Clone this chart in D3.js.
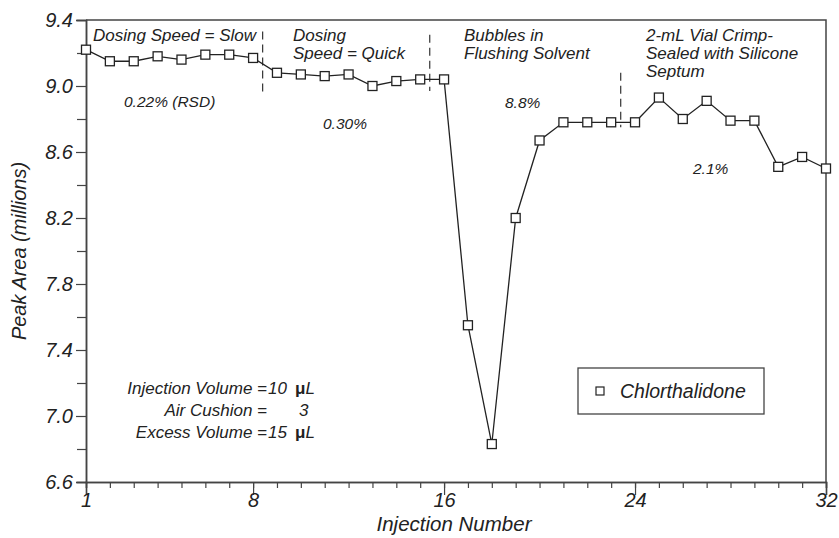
<!DOCTYPE html>
<html>
<head>
<meta charset="utf-8">
<script src="https://cdn.jsdelivr.net/npm/d3@7"></script>
<style>
  body { margin: 0; background: #fff; }
  text { font-family: "Liberation Sans", Arial, Helvetica, sans-serif; font-style: italic; fill: #222; }
</style>
</head>
<body>
<script>
// data
var injection = [1,2,3,4,5,6,7,8,9,10,11,12,13,14,15,16,17,18,19,20,21,22,23,24,25,26,27,28,29,30,31,32];
var peakArea = [9.22,9.15,9.15,9.18,9.16,9.19,9.19,9.17,9.08,9.07,9.06,9.07,9.00,9.03,9.04,9.04,
                7.55,6.83,8.20,8.67,8.78,8.78,8.78,8.78,8.93,8.80,8.91,8.79,8.79,8.51,8.57,8.50];
var xTickLabels = [1, 8, 16, 24, 32];
var yTickLabels = [6.6, 7.0, 7.4, 7.8, 8.2, 8.6, 9.0, 9.4];
var yMinorTicks = [6.8, 7.2, 7.6, 8.0, 8.4, 8.8, 9.2];
// dashed separators between conditions: x position, y from, y to
var sepX = [8.4, 15.4, 23.4];
var sepTop = [9.33, 9.31, 9.08];
var sepBottom = [8.96, 8.97, 8.75];
var rsdLabels = ["0.22% (RSD)", "0.30%", "8.8%", "2.1%"];
var seriesName = "Chlorthalidone";

var width = 839, height = 538;
var margin = {top: 20, right: 13, bottom: 56, left: 86};

var svg = d3.select("body").append("svg")
  .attr("width", width)
  .attr("height", height);

var x = d3.scaleLinear().domain([1, 32]).range([margin.left, width - margin.right]);
var y = d3.scaleLinear().domain([6.6, 9.4]).range([height - margin.bottom, margin.top]);

//frame top and right
svg.append("path")
  .attr("d", "M" + x(1) + "," + y(9.4) + "H" + x(32) + "V" + y(6.6))
  .attr("fill", "none")
  .attr("stroke", "#444")
  .attr("stroke-width", 1.5);

//left axis
var yAxis = svg.append("g")
  .attr("transform", "translate(" + x(1) + ",0)")
  .call(d3.axisLeft(y).tickValues(yTickLabels).tickFormat(d3.format(".1f")).tickSize(10).tickPadding(3));
svg.append("g")
  .attr("transform", "translate(" + x(1) + ",0)")
  .call(d3.axisLeft(y).tickValues(yMinorTicks).tickFormat("").tickSize(9));

//bottom axis
var xAxis = svg.append("g")
  .attr("transform", "translate(0," + y(6.6) + ")")
  .call(d3.axisBottom(x).tickValues(xTickLabels).tickFormat(d3.format("d")).tickSize(13));
svg.append("g")
  .attr("transform", "translate(0," + y(6.6) + ")")
  .call(d3.axisBottom(x).tickValues(injection).tickFormat("").tickSize(6));

svg.selectAll(".domain").attr("stroke", "#444").attr("stroke-width", 1.5);
svg.selectAll(".tick line").attr("stroke", "#444").attr("stroke-width", 1.2);
svg.selectAll(".tick text")
  .style("font-size", "20px")
  .style("font-style", "italic")
  .style("font-family", "'Liberation Sans', Arial, sans-serif")
  .attr("fill", "#222");
xAxis.selectAll(".tick text").attr("y", 11).attr("dy", "0.71em");

//axis titles
svg.append("text")
  .attr("transform", "translate(26," + ((y(6.6) + y(9.4)) / 2) + ") rotate(-90)")
  .attr("text-anchor", "middle")
  .style("font-size", "20px")
  .text("Peak Area (millions)");

svg.append("text")
  .attr("x", (x(1) + x(32)) / 2 - 2)
  .attr("y", 531)
  .attr("text-anchor", "middle")
  .style("font-size", "20.5px")
  .text("Injection Number");

//dashed separators
svg.selectAll(".sep")
  .data(sepX)
  .enter()
  .append("line")
  .attr("class", "sep")
  .attr("x1", function(d) { return x(d); })
  .attr("x2", function(d) { return x(d); })
  .attr("y1", function(d, i) { return y(sepTop[i]); })
  .attr("y2", function(d, i) { return y(sepBottom[i]); })
  .attr("stroke", "#333")
  .attr("stroke-width", 1.2)
  .attr("stroke-dasharray", "8,5");

//data line
var line = d3.line()
  .x(function(d, i) { return x(injection[i]); })
  .y(function(d) { return y(d); });

svg.append("path")
  .datum(peakArea)
  .attr("d", line)
  .attr("fill", "none")
  .attr("stroke", "#222")
  .attr("stroke-width", 1.3);

var s = 9;
svg.selectAll(".pt")
  .data(peakArea)
  .enter()
  .append("rect")
  .attr("class", "pt")
  .attr("x", function(d, i) { return x(injection[i]) - s / 2; })
  .attr("y", function(d) { return y(d) - s / 2; })
  .attr("width", s)
  .attr("height", s)
  .attr("fill", "#fff")
  .attr("stroke", "#222")
  .attr("stroke-width", 1.3);

//condition labels
function lines(xp, yp, arr, size) {
  var t = svg.append("text")
    .attr("x", xp)
    .attr("y", yp)
    .style("font-size", size + "px");
  arr.forEach(function(s, i) {
    t.append("tspan").attr("x", xp).attr("dy", i === 0 ? 0 : "1.07em").text(s);
  });
}
lines(93, 41, ["Dosing Speed = Slow"], 17);
lines(293, 41, ["Dosing", "Speed = Quick"], 17);
lines(464, 41, ["Bubbles in", "Flushing Solvent"], 17);
lines(646, 41, ["2-mL Vial Crimp-", "Sealed with Silicone", "Septum"], 17);

var rsdPos = [[124, 107], [323, 129], [505, 108], [693, 174]];
rsdLabels.forEach(function(r, i) {
  svg.append("text")
    .attr("x", rsdPos[i][0])
    .attr("y", rsdPos[i][1])
    .style("font-size", "15.5px")
    .text(r);
});

//settings block
var setLabels = ["Injection Volume =", "Air Cushion =", "Excess Volume ="];
var setValues = ["10", "", "15"];
setLabels.forEach(function(l, i) {
  var yy = 394 + i * 22;
  svg.append("text").attr("x", 267).attr("y", yy).attr("text-anchor", "end")
    .style("font-size", "17px").text(l);
  svg.append("text").attr("x", 268).attr("y", yy)
    .style("font-size", "17px").text(setValues[i]);
  if (i === 1) {
    svg.append("text").attr("x", 299).attr("y", yy)
      .style("font-size", "17px").text("3");
  } else {
    svg.append("text").attr("x", 295).attr("y", yy)
      .style("font-size", "17px")
      .html('<tspan style="font-style:normal;font-weight:bold">\u03bc</tspan>L');
  }
});

//legend
svg.append("rect")
  .attr("x", 578).attr("y", 368)
  .attr("width", 186).attr("height", 46)
  .attr("fill", "#fff")
  .attr("stroke", "#444")
  .attr("stroke-width", 1.3);
svg.append("rect")
  .attr("x", 596).attr("y", 387)
  .attr("width", 8).attr("height", 8)
  .attr("fill", "#fff")
  .attr("stroke", "#222")
  .attr("stroke-width", 1.2);
svg.append("text")
  .attr("x", 620).attr("y", 398)
  .style("font-size", "19.5px")
  .text(seriesName);
</script>
</body>
</html>
